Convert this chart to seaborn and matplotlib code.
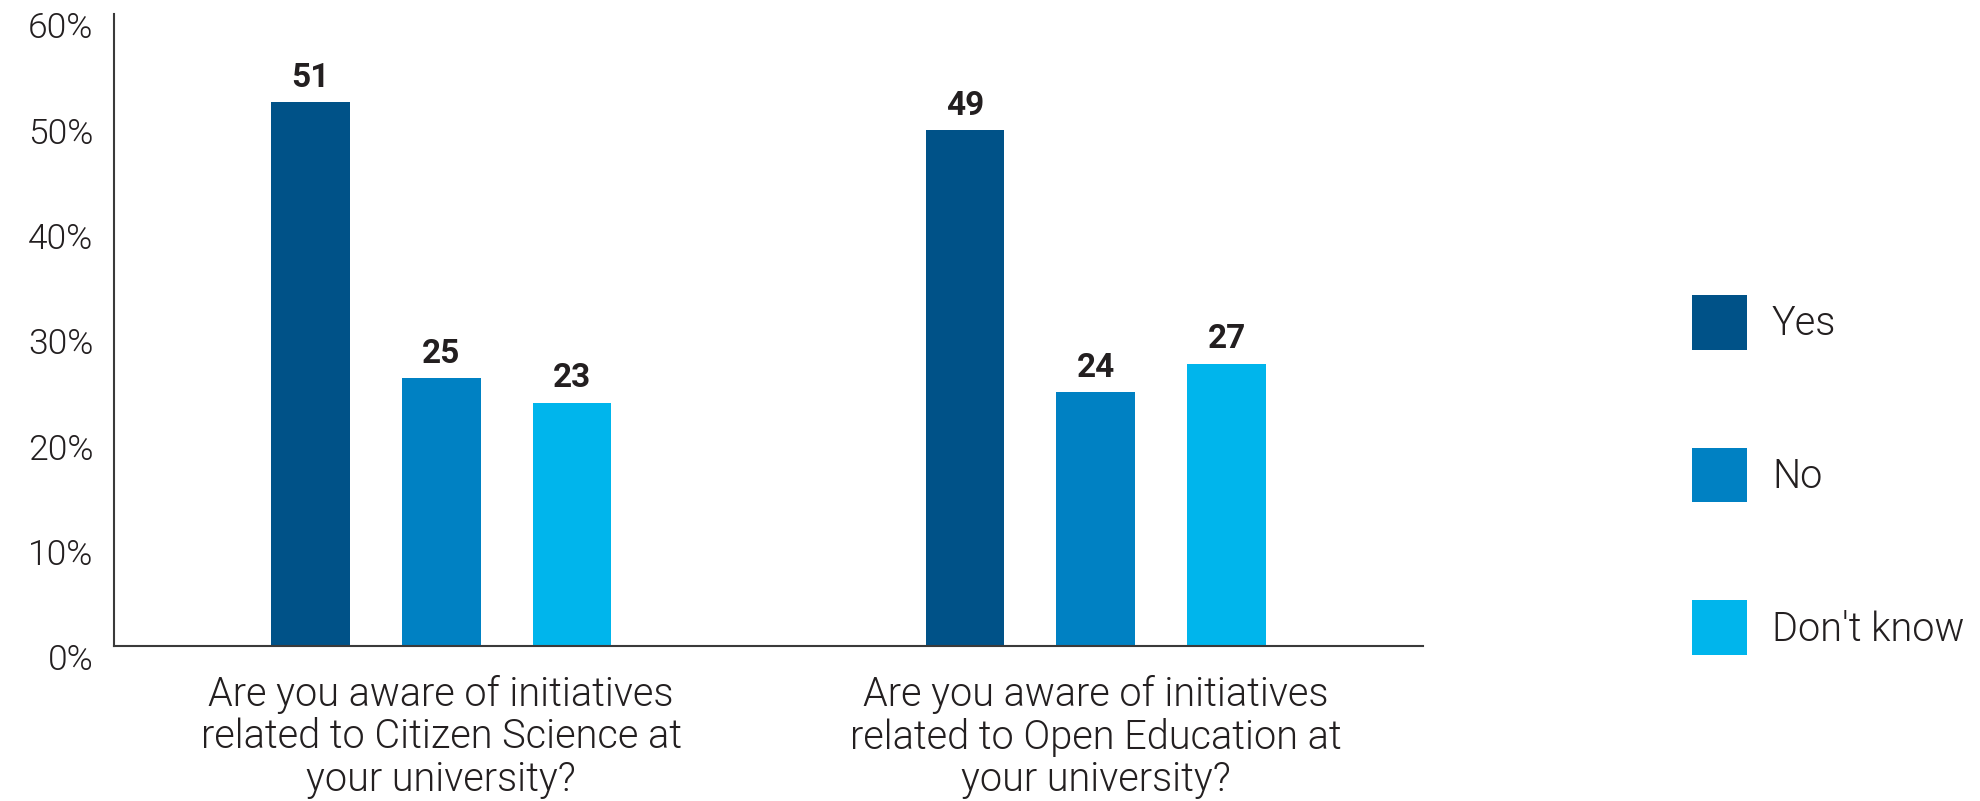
import matplotlib
matplotlib.use("Agg")
import matplotlib.pyplot as plt
from matplotlib.transforms import ScaledTranslation
from matplotlib.ticker import FuncFormatter, MultipleLocator
import seaborn as sns
import pandas as pd

# ---- data ----
questions = [
    "Are you aware of initiatives\nrelated to Citizen Science at\nyour university?",
    "Are you aware of initiatives\nrelated to Open Education at\nyour university?",
]
responses = ["Yes", "No", "Don't know"]
yes_values = [51.6, 49.0]
no_values = [25.4, 24.1]
dontknow_values = [23.1, 26.8]
yes_labels = ["51", "49"]
no_labels = ["25", "24"]
dontknow_labels = ["23", "27"]
colors = ["#005288", "#0081C3", "#00B5EC"]

rows = []
for resp, vals in zip(responses, [yes_values, no_values, dontknow_values]):
    for q, v in zip(questions, vals):
        rows.append({"question": q, "response": resp, "value": v})
df = pd.DataFrame(rows)

sns.set_theme(style="white")
FAM = ["Roboto", "DejaVu Sans"]
plt.rcParams["font.family"] = FAM
TXT = "#231F20"

fig = plt.figure(figsize=(19.8, 8.01), dpi=100)
ax = fig.add_axes([114 / 1980, 1 - 646 / 801, (1423 - 114) / 1980, (646 - 14) / 801])

sns.barplot(data=df, x="question", y="value", hue="response",
            order=questions, hue_order=responses, palette=colors, saturation=1,
            width=0.6, gap=0.4, linewidth=0, ax=ax, legend=True)

for cont, labs in zip(ax.containers, [yes_labels, no_labels, dontknow_labels]):
    ax.bar_label(cont, labels=labs, padding=6, fontsize=24, fontweight="bold",
                 family=FAM, color=TXT)

ax.set_ylim(0, 60)
ax.set_xlim(-0.5, 1.5)
ax.yaxis.set_major_locator(MultipleLocator(10))
ax.yaxis.set_major_formatter(FuncFormatter(lambda v, p: f"{int(v)}%"))
ax.set_xlabel("")
ax.set_ylabel("")
ax.tick_params(axis="y", length=0, pad=15, labelcolor=TXT)
ax.tick_params(axis="x", length=0, pad=21, labelcolor=TXT)
for lab in ax.get_xticklabels():
    lab.set_fontsize(28.5)
    lab.set_fontweight(300)
    lab.set_linespacing(1.12)
for lab in ax.get_yticklabels():
    lab.set_fontsize(25.5)
    lab.set_fontweight(300)
    lab.set_transform(lab.get_transform() + ScaledTranslation(0, -11 / 100, fig.dpi_scale_trans))

for s in ["top", "right"]:
    ax.spines[s].set_visible(False)
for s in ["left", "bottom"]:
    ax.spines[s].set_color("#3a3a3a")
    ax.spines[s].set_linewidth(1.5)

handles, labels = ax.get_legend_handles_labels()
ax.legend(handles, labels, loc="center left", bbox_to_anchor=(1692 / 1980, 1 - 475 / 801),
          bbox_transform=fig.transFigure, frameon=False,
          prop={"family": FAM, "size": 28.5, "weight": 300},
          handlelength=1.39, handleheight=1.76,
          labelspacing=2.47, handletextpad=0.63,
          borderpad=0, borderaxespad=0)
for t in ax.get_legend().get_texts():
    t.set_color(TXT)

fig.savefig("out.png", dpi=100, facecolor="white")
